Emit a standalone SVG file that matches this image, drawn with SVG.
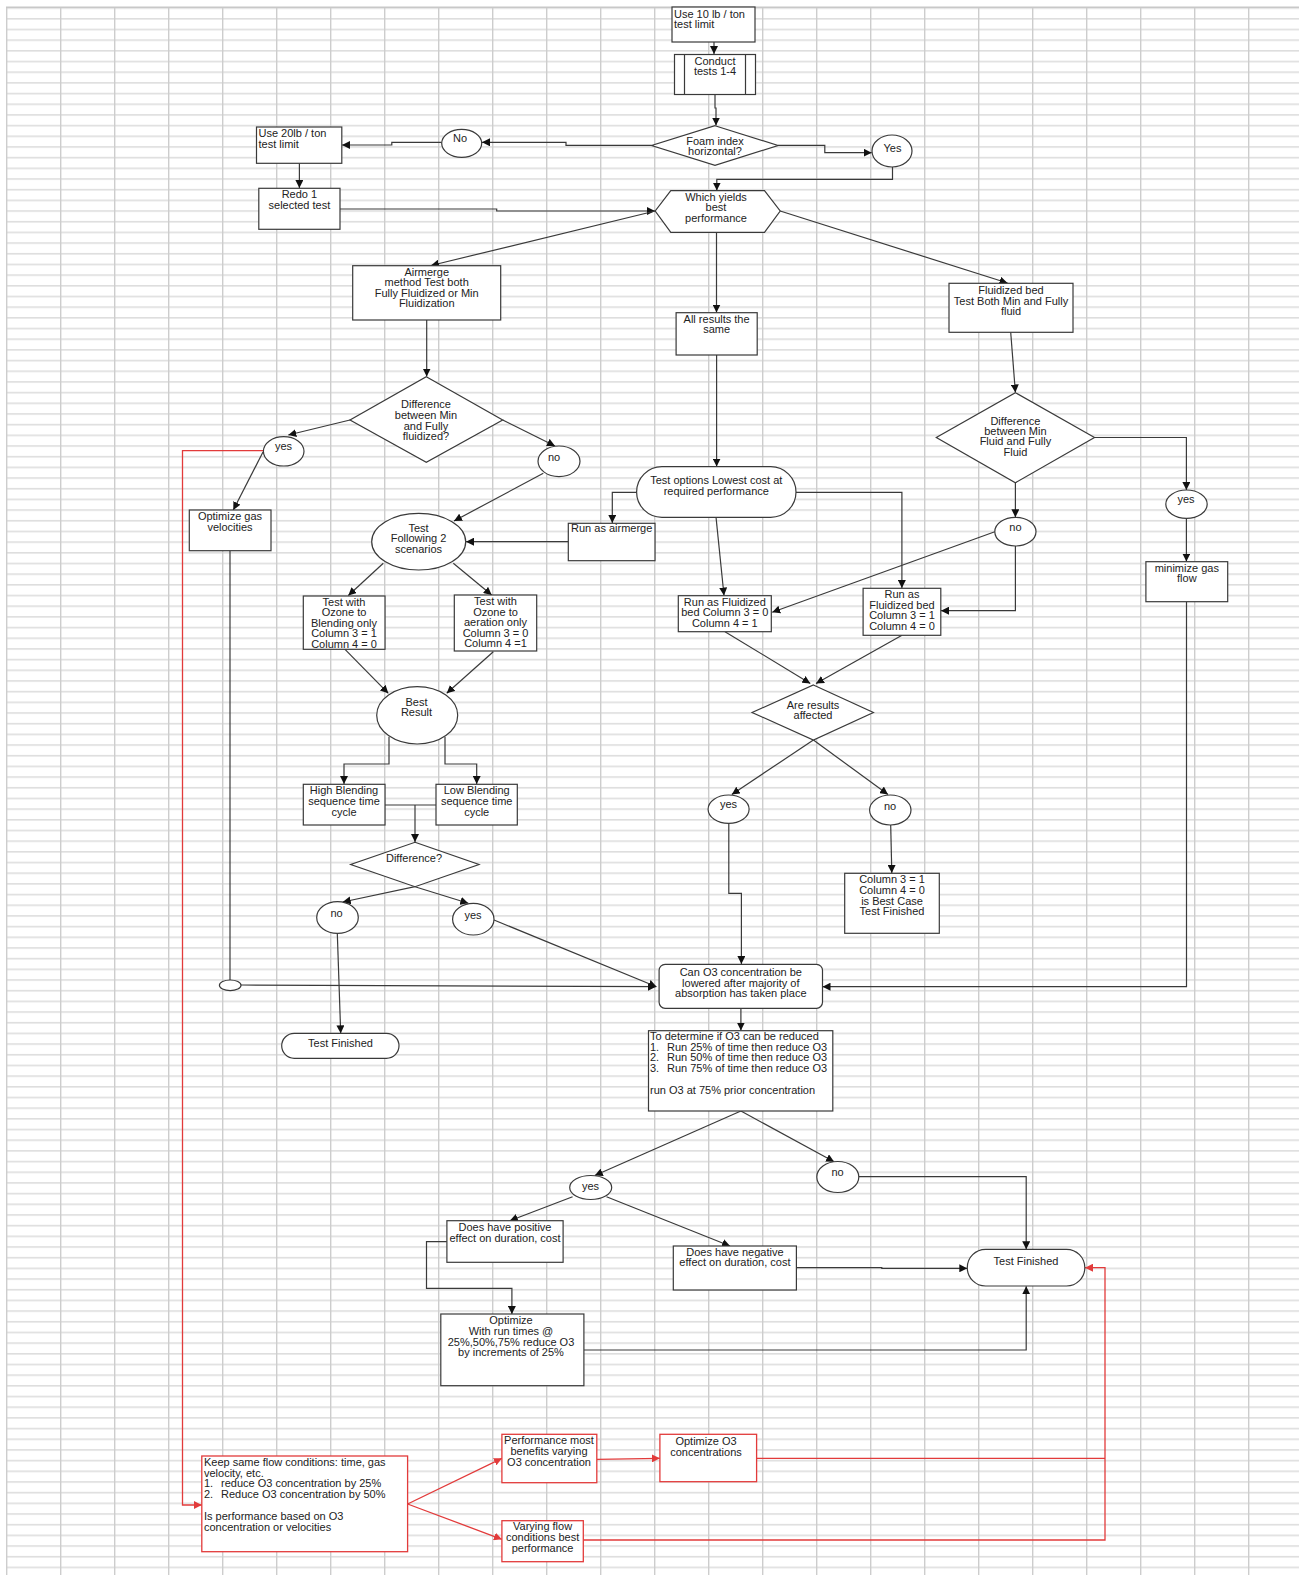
<svg xmlns="http://www.w3.org/2000/svg" width="1299" height="1575" viewBox="0 0 1299 1575">
<style>
.n{fill:#fff;stroke:#3a3a3a;stroke-width:1.2}
.r{fill:#fff;stroke:#e23b3b;stroke-width:1.3}
.c{fill:none;stroke:#3a3a3a;stroke-width:1.2;marker-end:url(#ah)}
.l{fill:none;stroke:#3a3a3a;stroke-width:1.2}
.cr{fill:none;stroke:#e23b3b;stroke-width:1.3;marker-end:url(#ahr)}
.lr{fill:none;stroke:#e23b3b;stroke-width:1.3}
text{font-family:"Liberation Sans",Arial,sans-serif;font-size:11px;fill:#222}
.m{text-anchor:middle}
</style>
<defs>
<pattern id="grid" x="6" y="7.3" width="54" height="10.68" patternUnits="userSpaceOnUse">
<rect x="0" y="0" width="54" height="1.6" fill="#dedede"/>
<rect x="0" y="0" width="1.4" height="10.68" fill="#cdcdcd"/>
</pattern>
<marker id="ah" viewBox="0 0 10 10" refX="10" refY="5" markerWidth="8" markerHeight="8" markerUnits="userSpaceOnUse" orient="auto"><path d="M0,0L10,5L0,10z" fill="#111"/></marker>
<marker id="ahr" viewBox="0 0 10 10" refX="10" refY="5" markerWidth="8" markerHeight="8" markerUnits="userSpaceOnUse" orient="auto"><path d="M0,0L10,5L0,10z" fill="#e23b3b"/></marker>
</defs>
<rect width="1299" height="1575" fill="#fff"/>
<rect x="6" y="7" width="1293" height="1568" fill="url(#grid)"/>
<line x1="6" y1="7.3" x2="1299" y2="7.3" stroke="#c8c8c8" stroke-width="1.4"/>

<g id="connectors">
<path class="c" d="M714,42V54"/>
<path class="c" d="M715,95V108H716V125.5"/>
<path class="c" d="M651.6,145.3H566V142.3H482"/>
<path class="c" d="M441.8,142.3H391.8V145H342"/>
<path class="c" d="M299.4,163.3V188"/>
<path class="c" d="M340,209H496.7V211H655"/>
<path class="c" d="M778,145.3H824.8V152.7H871.7"/>
<path class="c" d="M892.5,167V179.3H716.8V190.5"/>
<path class="c" d="M655.2,211L431,265.5"/>
<path class="c" d="M716.5,232.3V312.5"/>
<path class="c" d="M780.2,211L1007.5,283"/>
<path class="c" d="M426.7,320V376.5"/>
<path class="c" d="M350,420L288.3,435"/>
<path class="c" d="M502.7,420L555,446"/>
<path class="c" d="M263,452L233.3,510"/>
<path class="l" d="M230,550.7V980"/>
<path class="c" d="M241,985L656,986.7"/>
<path class="c" d="M543.3,473.3L454,521"/>
<path class="c" d="M568.3,541.7H466"/>
<path class="c" d="M636.6,492.3H612.3V523"/>
<path class="c" d="M716.6,355V466.5"/>
<path class="c" d="M796,492.3H901.9V588"/>
<path class="c" d="M716,517L724,595.5"/>
<path class="c" d="M1010.7,332.3L1015.4,392.5"/>
<path class="c" d="M1094.5,437.5H1186.4V490"/>
<path class="c" d="M1015.4,482.7V517.3"/>
<path class="c" d="M1186.4,518.4V561.5"/>
<path class="c" d="M1186.5,601.7V986.7H822.5"/>
<path class="c" d="M994.8,531.7L772.2,612.3"/>
<path class="c" d="M1015.4,546V610.7H941"/>
<path class="c" d="M725,631.7L810.3,683.5"/>
<path class="c" d="M902,635.3L816,683.5"/>
<path class="c" d="M813.4,740L731.8,794.5"/>
<path class="c" d="M813.4,740L888,794.5"/>
<path class="c" d="M890.7,825L891.8,873"/>
<path class="c" d="M728.8,823.4V893.3H741.4V964"/>
<path class="c" d="M345,649.3L388.3,693.3"/>
<path class="c" d="M493.3,651.7L446.7,693.3"/>
<path class="c" d="M383.3,563.3L348.3,595.5"/>
<path class="c" d="M453.3,563.3L491.7,595"/>
<path class="c" d="M389,736.7V764H344V784"/>
<path class="c" d="M445,736.7V764H476.7V784"/>
<path class="l" d="M385,805H436"/>
<path class="c" d="M415,805V842"/>
<path class="c" d="M415,886.7L342.7,902"/>
<path class="c" d="M415,886.7L468.3,903.3"/>
<path class="c" d="M337.3,933.3L340.7,1033.3"/>
<path class="c" d="M494,920L656.5,986.7"/>
<path class="c" d="M740.9,1008.3V1030.5"/>
<path class="c" d="M740.9,1111L594.8,1175.5"/>
<path class="c" d="M740.9,1111L834.1,1161.7"/>
<path class="c" d="M858.9,1176.7H1026.2V1249.3"/>
<path class="c" d="M572.6,1196.7L509.8,1220.7"/>
<path class="c" d="M606.5,1196.7L730,1246"/>
<path class="c" d="M796.4,1267.7H881.8V1268.3H967.3"/>
<path class="c" d="M446.9,1241.7H426.5V1288.3H511.9V1314"/>
<path class="c" d="M583.9,1350H1026.2V1286.3"/>
<path class="cr" d="M263.3,450.7H182.5V1505H201.8"/>
<path class="cr" d="M407.6,1504L501.9,1458.3"/>
<path class="cr" d="M407.6,1504L501.9,1539.3"/>
<path class="cr" d="M596.8,1459.3L659.9,1458.3"/>
<path class="lr" d="M756.6,1458.3H1105"/>
<path class="cr" d="M583.3,1540H1105V1267.7H1085"/>
</g>

<g id="use10"><rect class="n" x="672" y="7" width="83" height="35"/><text x="674" y="17.5">Use 10 lb / ton</text><text x="674" y="28">test limit</text></g>
<g id="conduct"><rect class="n" x="674.5" y="54.5" width="81" height="40"/><line class="l" x1="684.5" y1="54.5" x2="684.5" y2="94.5"/><line class="l" x1="745.5" y1="54.5" x2="745.5" y2="94.5"/><text class="m" x="715" y="64.7">Conduct</text><text class="m" x="715" y="75.3">tests 1-4</text></g>
<g id="foam"><polygon class="n" points="715,125.7 778,145.5 715,165.3 651.6,145.5"/><text class="m" x="715" y="144.5">Foam index</text><text class="m" x="715" y="155">horizontal?</text></g>
<g id="no1"><ellipse class="n" cx="461.7" cy="143.3" rx="20" ry="14"/><text class="m" x="460" y="141.5">No</text></g>
<g id="yes1"><ellipse class="n" cx="892" cy="151" rx="20" ry="16"/><text class="m" x="892.5" y="151.5">Yes</text></g>
<g id="use20"><rect class="n" x="256.5" y="127" width="85.3" height="36.3"/><text x="258.5" y="137.3">Use 20lb / ton</text><text x="258.5" y="148">test limit</text></g>
<g id="redo"><rect class="n" x="258.8" y="188.3" width="81.2" height="41"/><text class="m" x="299.4" y="198.3">Redo 1</text><text class="m" x="299.4" y="209">selected test</text></g>
<g id="which"><polygon class="n" points="670.8,190.7 764.5,190.7 780.2,211 764.5,232.3 670.8,232.3 655.2,211"/><text class="m" x="716" y="201">Which yields</text><text class="m" x="716" y="211.3">best</text><text class="m" x="716" y="222.3">performance</text></g>
<g id="airmerge"><rect class="n" x="352.7" y="265.7" width="148" height="54.3"/><text class="m" x="426.7" y="275.7">Airmerge</text><text class="m" x="426.7" y="286.3">method Test both</text><text class="m" x="426.7" y="296.7">Fully Fluidized or Min</text><text class="m" x="426.7" y="307.3">Fluidization</text></g>
<g id="allsame"><rect class="n" x="676.1" y="312.7" width="81.1" height="42.3"/><text class="m" x="716.6" y="322.7">All results the</text><text class="m" x="716.6" y="333.3">same</text></g>
<g id="fluidbed"><rect class="n" x="949" y="283.3" width="124" height="49"/><text class="m" x="1011" y="294">Fluidized bed</text><text class="m" x="1011" y="304.7">Test Both Min and Fully</text><text class="m" x="1011" y="315">fluid</text></g>
<g id="diff1"><polygon class="n" points="426.3,376.7 502.7,420 426.3,462.3 350,420"/><text class="m" x="426" y="408.3">Difference</text><text class="m" x="426" y="419">between Min</text><text class="m" x="426" y="429.7">and Fully</text><text class="m" x="426" y="440">fluidized?</text></g>
<g id="diff2"><polygon class="n" points="1015.4,392.7 1094.5,437.5 1015.4,482.7 936.3,437.5"/><text class="m" x="1015.4" y="424.7">Difference</text><text class="m" x="1015.4" y="435.3">between Min</text><text class="m" x="1015.4" y="445.3">Fluid and Fully</text><text class="m" x="1015.4" y="455.7">Fluid</text></g>
<g id="yes2"><ellipse class="n" cx="283.7" cy="451.3" rx="20.3" ry="14.7"/><text class="m" x="283.5" y="449.8">yes</text></g>
<g id="no2"><ellipse class="n" cx="559" cy="461.3" rx="21" ry="15.3"/><text class="m" x="554" y="460.5">no</text></g>
<g id="yes3"><ellipse class="n" cx="1186.5" cy="504.2" rx="20.7" ry="14.2"/><text class="m" x="1186" y="503">yes</text></g>
<g id="no3"><ellipse class="n" cx="1015.4" cy="531.7" rx="20.6" ry="14.3"/><text class="m" x="1015.4" y="530.7">no</text></g>
<g id="optgas"><rect class="n" x="189.3" y="510" width="81.7" height="40.7"/><text class="m" x="230" y="520">Optimize gas</text><text class="m" x="230" y="530.7">velocities</text></g>
<g id="testoptions"><rect class="n" x="636.6" y="466.7" width="159.4" height="50.6" rx="25.3"/><text class="m" x="716.3" y="484.3">Test options Lowest cost at</text><text class="m" x="716.3" y="495">required performance</text></g>
<g id="runair"><rect class="n" x="568.3" y="523.3" width="86.7" height="37.4"/><text class="m" x="611.7" y="532.3">Run as airmerge</text></g>
<g id="testfollow"><ellipse class="n" cx="418.7" cy="541.7" rx="47" ry="28.3"/><text class="m" x="418.5" y="531.7">Test</text><text class="m" x="418.5" y="542.3">Following 2</text><text class="m" x="418.5" y="553">scenarios</text></g>
<g id="minimize"><rect class="n" x="1145.9" y="561.7" width="81.8" height="40"/><text class="m" x="1186.8" y="572.3">minimize gas</text><text class="m" x="1186.8" y="582.3">flow</text></g>
<g id="ozblend"><rect class="n" x="303.3" y="596" width="81.7" height="53.3"/><text class="m" x="344" y="605.7">Test with</text><text class="m" x="344" y="616.3">Ozone to</text><text class="m" x="344" y="626.7">Blending only</text><text class="m" x="344" y="637.3">Column 3 = 1</text><text class="m" x="344" y="648">Column 4 = 0</text></g>
<g id="ozaer"><rect class="n" x="454.3" y="595" width="82.4" height="56"/><text class="m" x="495.5" y="605">Test with</text><text class="m" x="495.5" y="615.7">Ozone to</text><text class="m" x="495.5" y="626.3">aeration only</text><text class="m" x="495.5" y="636.7">Column 3 = 0</text><text class="m" x="495.5" y="647.3">Column 4 =1</text></g>
<g id="runfb1"><rect class="n" x="678.3" y="595.7" width="93" height="36"/><text class="m" x="724.8" y="605.7">Run as Fluidized</text><text class="m" x="724.8" y="616.3">bed Column 3 = 0</text><text class="m" x="724.8" y="626.7">Column 4 = 1</text></g>
<g id="runfb2"><rect class="n" x="863.1" y="588.3" width="77.7" height="47"/><text class="m" x="902" y="598">Run as</text><text class="m" x="902" y="608.7">Fluidized bed</text><text class="m" x="902" y="619.3">Column 3 = 1</text><text class="m" x="902" y="630">Column 4 = 0</text></g>
<g id="affected"><polygon class="n" points="813.4,685 873.4,712.5 813.4,740 752.1,712.5"/><text class="m" x="813" y="708.7">Are results</text><text class="m" x="813" y="719.3">affected</text></g>
<g id="best"><ellipse class="n" cx="417.2" cy="715.3" rx="40.5" ry="28.7"/><text class="m" x="416.5" y="705.7">Best</text><text class="m" x="416.5" y="716.3">Result</text></g>
<g id="highblend"><rect class="n" x="303.3" y="784.3" width="81.7" height="40.7"/><text class="m" x="344" y="794">High Blending</text><text class="m" x="344" y="805">sequence time</text><text class="m" x="344" y="815.7">cycle</text></g>
<g id="lowblend"><rect class="n" x="436" y="784.3" width="81.3" height="40.7"/><text class="m" x="476.7" y="794">Low Blending</text><text class="m" x="476.7" y="805">sequence time</text><text class="m" x="476.7" y="815.7">cycle</text></g>
<g id="yes4"><ellipse class="n" cx="728.6" cy="809.2" rx="20.5" ry="14.2"/><text class="m" x="728.5" y="808">yes</text></g>
<g id="no4"><ellipse class="n" cx="890.3" cy="810" rx="20.7" ry="15"/><text class="m" x="890" y="809.7">no</text></g>
<g id="difference"><polygon class="n" points="415,842.3 479,864.5 415,886.7 350.7,864.5"/><text class="m" x="414" y="862.3">Difference?</text></g>
<g id="bestcase"><rect class="n" x="844.7" y="873.3" width="94.6" height="60"/><text class="m" x="892" y="883.3">Column 3 = 1</text><text class="m" x="892" y="894">Column 4 = 0</text><text class="m" x="892" y="904.7">is Best Case</text><text class="m" x="892" y="915.3">Test Finished</text></g>
<g id="no5"><ellipse class="n" cx="337.5" cy="917.5" rx="20.8" ry="15.8"/><text class="m" x="336.5" y="917.3">no</text></g>
<g id="yes5"><ellipse class="n" cx="473.3" cy="919.2" rx="20.7" ry="15.8"/><text class="m" x="473" y="919">yes</text></g>
<g id="junction"><ellipse class="n" cx="230.2" cy="985.3" rx="10.8" ry="5.3"/></g>
<g id="cano3"><rect class="n" x="659.1" y="964.3" width="163.4" height="44" rx="6"/><text class="m" x="740.8" y="975.7">Can O3 concentration be</text><text class="m" x="740.8" y="986.7">lowered after majority of</text><text class="m" x="740.8" y="997.3">absorption has taken place</text></g>
<g id="finished1"><rect class="n" x="281.7" y="1033.3" width="117.3" height="25" rx="12.5"/><text class="m" x="340.5" y="1046.7">Test Finished</text></g>
<g id="determine"><rect class="n" x="648.5" y="1030.7" width="184.3" height="80.3"/><text x="650" y="1040">To determine if O3  can be reduced</text><text x="650" y="1050.7">1.</text><text x="667" y="1050.7">Run 25% of time then reduce O3</text><text x="650" y="1061.3">2.</text><text x="667" y="1061.3">Run 50% of time then reduce O3</text><text x="650" y="1072.3">3.</text><text x="667" y="1072.3">Run 75% of time then reduce O3</text><text x="650" y="1094">run O3 at 75% prior concentration</text></g>
<g id="yes6"><ellipse class="n" cx="590.7" cy="1187.5" rx="21" ry="12"/><text class="m" x="590.5" y="1189.5">yes</text></g>
<g id="no6"><ellipse class="n" cx="837.8" cy="1177" rx="21" ry="15.5"/><text class="m" x="837.5" y="1176.3">no</text></g>
<g id="positive"><rect class="n" x="446.9" y="1220.7" width="116.2" height="41.6"/><text class="m" x="505" y="1231.3">Does have positive</text><text class="m" x="505" y="1242">effect on duration, cost</text></g>
<g id="negative"><rect class="n" x="673.3" y="1246" width="123.1" height="44"/><text class="m" x="734.9" y="1255.7">Does have negative</text><text class="m" x="734.9" y="1266.3">effect on duration, cost</text></g>
<g id="finished2"><rect class="n" x="967.3" y="1249.3" width="117.5" height="36.7" rx="18.3"/><text class="m" x="1026" y="1265">Test Finished</text></g>
<g id="optimize"><rect class="n" x="440.8" y="1314" width="143.1" height="71.7"/><text class="m" x="511" y="1324">Optimize</text><text class="m" x="511" y="1334.7">With run times @</text><text class="m" x="511" y="1345.7">25%,50%,75% reduce O3</text><text class="m" x="511" y="1356.3">by increments of 25%</text></g>
<g id="keep"><rect class="r" x="201.8" y="1456" width="205.8" height="95.7"/><text x="204" y="1466.3">Keep same flow conditions: time, gas</text><text x="204" y="1476.7">velocity, etc.</text><text x="204" y="1487.3">1.</text><text x="221" y="1487.3">reduce O3 concentration by 25%</text><text x="204" y="1498.3">2.</text><text x="221" y="1498.3">Reduce O3 concentration by 50%</text><text x="204" y="1519.7">Is performance based on O3</text><text x="204" y="1530.7">concentration or velocities</text></g>
<g id="perfmost"><rect class="r" x="501.9" y="1434.3" width="94.9" height="48.4"/><text class="m" x="549" y="1444">Performance most</text><text class="m" x="549" y="1455">benefits varying</text><text class="m" x="549" y="1466">O3 concentration</text></g>
<g id="opto3"><rect class="r" x="659.9" y="1434.3" width="96.7" height="47.4"/><text class="m" x="706" y="1444.7">Optimize O3</text><text class="m" x="706" y="1455.7">concentrations</text></g>
<g id="varying"><rect class="r" x="501.9" y="1520.7" width="81.4" height="41"/><text class="m" x="542.6" y="1530">Varying flow</text><text class="m" x="542.6" y="1540.7">conditions best</text><text class="m" x="542.6" y="1551.7">performance</text></g>
</svg>
